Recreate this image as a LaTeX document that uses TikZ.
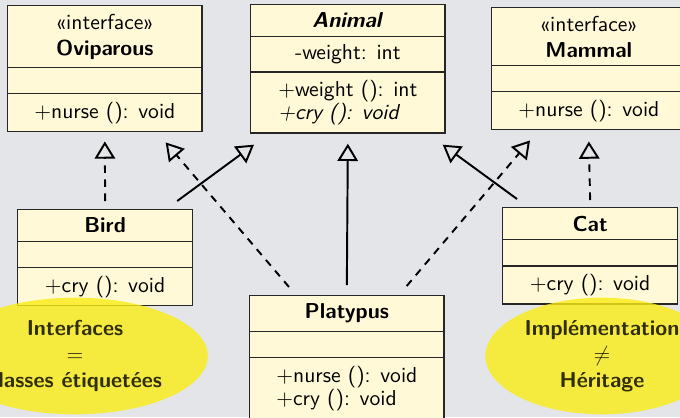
\documentclass[tikz,border=0pt]{standalone}
\usetikzlibrary{shapes.multipart,shapes.geometric,arrows.meta,positioning}

\definecolor{sfondo}{RGB}{227,229,233}
\definecolor{crema}{RGB}{255,249,215}
\definecolor{giallo}{RGB}{250,236,20}

\begin{document}
\begin{tikzpicture}[x=0.463pt, y=-0.463pt, font=\sffamily,
    classe/.style={rectangle split, rectangle split parts=3, draw=black!85, fill=crema,
        line width=0.6pt, inner ysep=3.5pt, rectangle split empty part height=4.6pt,
        anchor=north west, align=center},
    grande/.style={classe, minimum width=90pt},
    piccola/.style={classe, minimum width=81pt},
    eredita/.style={line width=0.9pt, -{Triangle[open, length=8pt, width=9.5pt]}},
    realizza/.style={eredita, dash pattern=on 3.5pt off 3pt},
    nuvola/.style={ellipse, fill=giallo, opacity=0.8, inner sep=1pt,
        font=\sffamily\bfseries, align=center, minimum height=54pt}]

% Sfondo (fissa anche i margini)
\fill[sfondo] (0,0) rectangle (680,417);
\useasboundingbox (0,0) rectangle (680,417);

% Classi in alto
\node[grande] (ovi) at (7,5) {«interface»\\\textbf{Oviparous}
    \nodepart{two}
    \nodepart{three} $+$nurse (): void};
\node[grande, align=left] (animal) at (250,4) {\textbf{\textit{Animal}}
    \nodepart{two} -weight: int
    \nodepart{three} $+$weight (): int\\[-1.4pt]\textit{+cry (): void}};
\node[grande] (mammal) at (491,7) {«interface»\\\textbf{Mammal}
    \nodepart{two}
    \nodepart{three} $+$nurse (): void};

% Classi in basso
\node[piccola] (bird) at (17,209) {\textbf{Bird}
    \nodepart{two}
    \nodepart{three} $+$cry (): void};
\node[piccola] (cat) at (502,207) {\textbf{Cat}
    \nodepart{two}
    \nodepart{three} $+$cry (): void};
\node[grande, align=left] (platypus) at (249,295) {\textbf{Platypus}
    \nodepart{two}
    \nodepart{three} $+$nurse (): void\\[-1.4pt]$+$cry (): void};

% Ereditarieta' e realizzazioni
\draw[realizza] ([shift={(0,-8)}]bird.north) -- ([shift={(0,9)}]ovi.south);
\draw[eredita] ([shift={(-16,-8)}]bird.north east) -- ([shift={(4,11)}]animal.south west);
\draw[realizza] ([shift={(40,-8)}]platypus.north west) -- ([shift={(-37,10)}]ovi.south east);
\draw[eredita] ([shift={(0,-10)}]platypus.north) -- ([shift={(0,10)}]animal.south);
\draw[realizza] ([shift={(-38,-9)}]platypus.north east) -- ([shift={(39,10)}]mammal.south west);
\draw[eredita] ([shift={(15,-8)}]cat.north west) -- ([shift={(-3,11)}]animal.south east);
\draw[realizza] ([shift={(0,-7)}]cat.north) -- ([shift={(0,11)}]mammal.south);

% Note gialle
\node[nuvola, minimum width=123pt] (regola) at (75,356) {Interfaces\\$=$\\classes étiquetées};
\node[nuvola, minimum width=108pt] (nota) at (602,356) {Implémentation\\$\neq$\\Héritage};

\end{tikzpicture}
\end{document}
